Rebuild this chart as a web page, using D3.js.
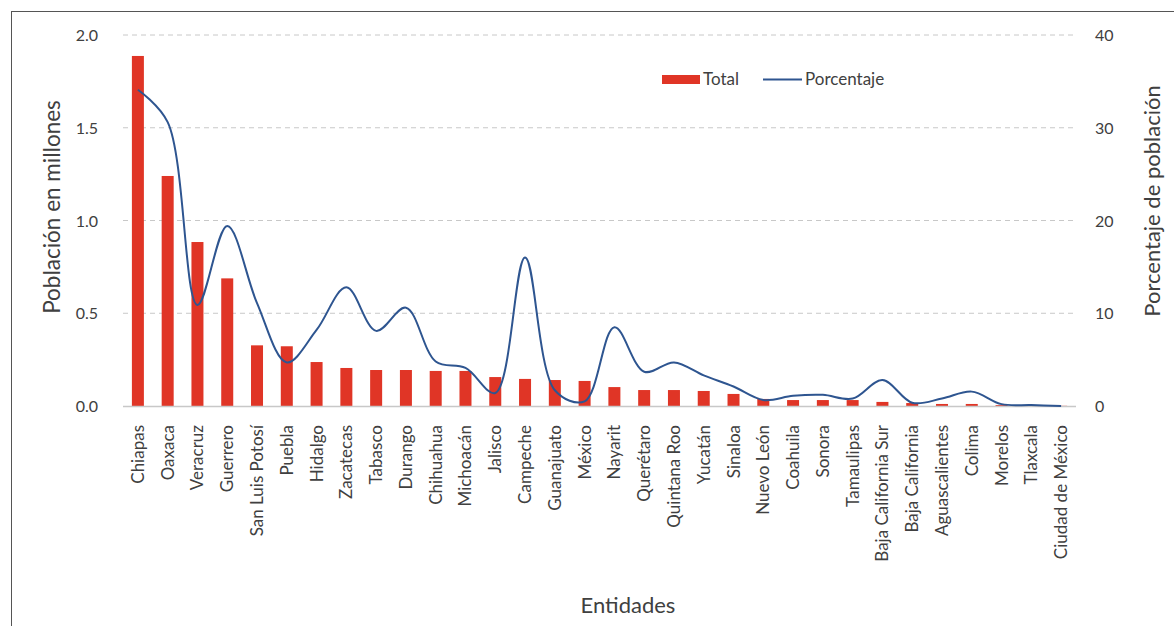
<!DOCTYPE html>
<html><head><meta charset="utf-8">
<script src="https://cdn.jsdelivr.net/npm/d3@7"></script>
<style>body{margin:0;background:#fff}svg{display:block;font-family:Lato,sans-serif}</style>
</head><body>
<script>
const categories = ["Chiapas","Oaxaca","Veracruz","Guerrero","San Luis Potosí","Puebla","Hidalgo","Zacatecas","Tabasco","Durango","Chihuahua","Michoacán","Jalisco","Campeche","Guanajuato","México","Nayarit","Querétaro","Quintana Roo","Yucatán","Sinaloa","Nuevo León","Coahuila","Sonora","Tamaulipas","Baja California Sur","Baja California","Aguascalientes","Colima","Morelos","Tlaxcala","Ciudad de México"];
const total = [1.887,1.24,0.884,0.688,0.327,0.322,0.237,0.205,0.194,0.194,0.189,0.189,0.156,0.146,0.14,0.135,0.102,0.086,0.086,0.081,0.065,0.038,0.032,0.032,0.032,0.022,0.016,0.011,0.011,0.005,0.003,0.001];
const porcentaje = [34.1,30.6,10.9,19.4,11.1,4.7,8.2,12.8,8.1,10.6,4.8,4.1,1.4,16.0,1.7,0.5,8.5,3.7,4.7,3.3,2.1,0.65,1.1,1.2,0.8,2.8,0.35,0.8,1.55,0.2,0.1,0.0];
const leftTicks = [0,0.5,1.0,1.5,2.0];
const rightTicks = [0,10,20,30,40];

const W=1174,H=626;
const m={l:123,r:1076,t:35,b:406};
const svg=d3.select("body").append("svg").attr("width",W).attr("height",H);
svg.append("rect").attr("x",11.5).attr("y",11.5).attr("width",W).attr("height",H).attr("fill","none").attr("stroke","#555").attr("stroke-width",1);

const xc=d3.scalePoint().domain(categories).range([m.l,m.r]).padding(0.5);
const yL=d3.scaleLinear().domain([0,2]).range([m.b,m.t]);
const yR=d3.scaleLinear().domain([0,40]).range([m.b,m.t]);

// gridlines
svg.append("g").selectAll("line").data(leftTicks.slice(1)).join("line")
 .attr("x1",m.l).attr("x2",m.r).attr("y1",d=>yL(d)).attr("y2",d=>yL(d))
 .attr("stroke","#c8c8c8").attr("stroke-width",1).attr("stroke-dasharray","5,4");

const txt="#404040";
// left axis
const gL=svg.append("g").attr("transform",`translate(${m.l-22},0)`)
 .call(d3.axisLeft(yL).tickValues(leftTicks).tickFormat(d3.format(".1f")).tickSize(0));
gL.select(".domain").remove();
gL.selectAll("text").attr("fill",txt).style("font-size","16px").style("font-family","Lato").attr("dy","0.35em");
// right axis
const gR=svg.append("g").attr("transform",`translate(${m.r+16},0)`)
 .call(d3.axisRight(yR).tickValues(rightTicks).tickFormat(d3.format("d")).tickSize(0));
gR.select(".domain").remove();
gR.selectAll("text").attr("fill",txt).style("font-size","16px").style("font-family","Lato").attr("dy","0.35em");

// bars
svg.append("g").selectAll("rect").data(categories).join("rect")
 .attr("x",d=>xc(d)-6).attr("width",12)
 .attr("y",(d,i)=>yL(total[i])).attr("height",(d,i)=>yL(0)-yL(total[i]))
 .attr("fill","#e03526");

// baseline
svg.append("line").attr("x1",m.l).attr("x2",m.r).attr("y1",m.b+0.5).attr("y2",m.b+0.5).attr("stroke","#c8c8c8").attr("stroke-width",1.5);

// line
const line=d3.line().x((d,i)=>xc(categories[i])).y(d=>yR(d)).curve(d3.curveCatmullRom.alpha(0.5));
svg.append("path").datum(porcentaje).attr("d",line).attr("fill","none").attr("stroke","#2e5590").attr("stroke-width",2);

// x labels
svg.append("g").selectAll("text").data(categories).join("text")
 .attr("transform",d=>`translate(${xc(d)+6},${m.b+19}) rotate(-90)`)
 .attr("text-anchor","end").attr("fill",txt).style("font-size","17px").text(d=>d);

// axis titles
svg.append("text").attr("transform","translate(60,207) rotate(-90)").attr("text-anchor","middle").attr("fill",txt).style("font-size","22.5px").text("Población en millones");
svg.append("text").attr("transform","translate(1160,201) rotate(-90)").attr("text-anchor","middle").attr("fill",txt).style("font-size","22px").text("Porcentaje de población");
svg.append("text").attr("x",628).attr("y",613).attr("text-anchor","middle").attr("fill",txt).style("font-size","22px").text("Entidades");

// legend
svg.append("rect").attr("x",662).attr("y",75).attr("width",38).attr("height",9).attr("fill","#e03526");
svg.append("text").attr("x",703).attr("y",85).attr("fill",txt).style("font-size","17px").text("Total");
svg.append("line").attr("x1",763).attr("x2",802).attr("y1",79.5).attr("y2",79.5).attr("stroke","#2e5590").attr("stroke-width",2);
svg.append("text").attr("x",805).attr("y",85).attr("fill",txt).style("font-size","17px").text("Porcentaje");
</script>
</body></html>
